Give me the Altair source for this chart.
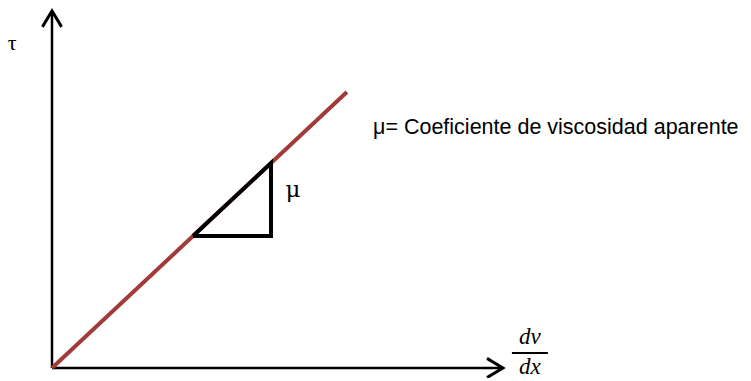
import altair as alt
import pandas as pd

# ---- data (in "rate / stress" units) ----
axis_x_max = 15.03          # end of the dv/dx axis
axis_y_max = 11.9           # end of the tau axis
shear_rate = [0.0, 9.83]    # dv/dx along the flow line
shear_stress = [0.0, 9.2]   # tau along the flow line
tri_x = [4.7, 7.3, 7.3, 4.7]
tri_y = [4.4, 4.4, 6.83, 4.4]
arrow_back = 0.53
arrow_half = 0.32

label_text = ["τ", "μ", "μ= Coeficiente de viscosidad aparente", "dv", "dx"]
label_x = [-1.33, 8.03, 10.7, 15.93, 15.93]
label_y = [10.85, 5.95, 8.0, 1.03, 0.03]
frac_x = [15.33, 16.53]
frac_y = 0.5

X_DOMAIN = [-1.4667, 23.0333]
Y_DOMAIN = [0.0, 12.0]

xs = alt.Scale(domain=X_DOMAIN, nice=False, zero=False)
ys = alt.Scale(domain=Y_DOMAIN, nice=False, zero=False)


def X(f="x"):
    return alt.X(f"{f}:Q", scale=xs, axis=None)


def Y(f="y"):
    return alt.Y(f"{f}:Q", scale=ys, axis=None)


# axes lines
axes_df = pd.DataFrame({
    "x": [0, 0, 0, axis_x_max],
    "y": [0, axis_y_max, 0, 0],
    "g": ["v", "v", "h", "h"],
    "o": [0, 1, 0, 1],
})
axes = alt.Chart(axes_df).mark_line(color="black", strokeWidth=2.5).encode(
    x=X(), y=Y(), detail="g:N", order="o:Q")

# arrowheads (open chevrons)
heads_df = pd.DataFrame({
    "x": [axis_x_max - arrow_back, axis_x_max, axis_x_max - arrow_back,
          -arrow_half, 0, arrow_half],
    "y": [arrow_half, 0, -arrow_half,
          axis_y_max - arrow_back, axis_y_max, axis_y_max - arrow_back],
    "g": ["h", "h", "h", "v", "v", "v"],
    "o": [0, 1, 2, 0, 1, 2],
})
heads = alt.Chart(heads_df).mark_line(color="black", strokeWidth=3,
                                      strokeJoin="miter").encode(
    x=X(), y=Y(), detail="g:N", order="o:Q")

# flow line
flow_df = pd.DataFrame({"x": shear_rate, "y": shear_stress})
flow = alt.Chart(flow_df).mark_line(color="#A23A3A", strokeWidth=4).encode(
    x=X(), y=Y())

# slope triangle
tri_df = pd.DataFrame({"x": tri_x, "y": tri_y, "o": list(range(len(tri_x)))})
tri = alt.Chart(tri_df).mark_line(color="black", strokeWidth=4,
                                  strokeJoin="miter").encode(
    x=X(), y=Y(), order="o:Q")

lab = pd.DataFrame({"t": label_text, "x": label_x, "y": label_y})

tau = alt.Chart(lab.iloc[[0]]).mark_text(
    font="Liberation Serif", fontSize=22, align="center", baseline="middle"
).encode(x=X(), y=Y(), text="t:N")

mu = alt.Chart(lab.iloc[[1]]).mark_text(
    font="DejaVu Serif", fontSize=23, align="center", baseline="middle"
).encode(x=X(), y=Y(), text="t:N")

legend_txt = alt.Chart(lab.iloc[[2]]).mark_text(
    font="Liberation Sans", fontSize=21.5, align="left", baseline="middle"
).encode(x=X(), y=Y(), text="t:N")

frac_txt = alt.Chart(lab.iloc[[3, 4]]).mark_text(
    font="Liberation Serif", fontSize=23, fontStyle="italic",
    align="center", baseline="middle"
).encode(x=X(), y=Y(), text="t:N")

frac_df = pd.DataFrame({"x": [frac_x[0]], "x2": [frac_x[1]], "y": [frac_y]})
frac_bar = alt.Chart(frac_df).mark_rule(color="black", strokeWidth=2).encode(
    x=X(), x2="x2:Q", y=Y())

chart = alt.layer(
    axes, heads, flow, tri, tau, mu, legend_txt, frac_txt, frac_bar
).properties(
    width=735, height=360,
    padding={"left": 0, "top": 0, "right": 0, "bottom": 10},
    autosize=alt.AutoSizeParams(type="none"),
    background="white",
).configure_view(stroke=None)

chart.save("out.html", embed_options={"renderer": "svg", "actions": False})
